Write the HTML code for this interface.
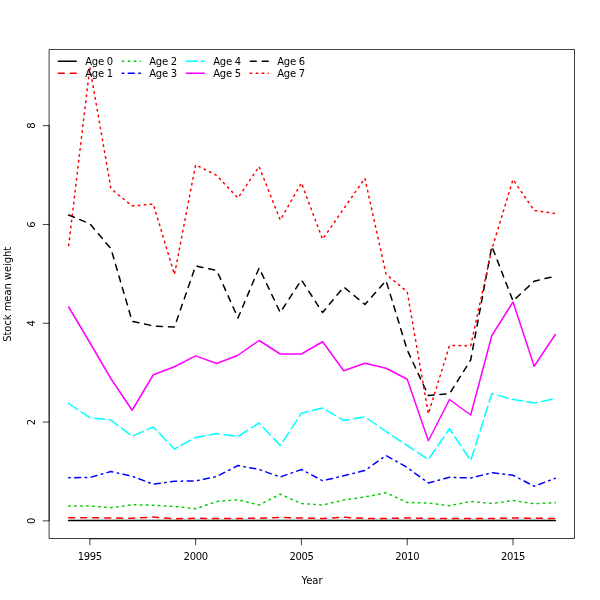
<!DOCTYPE html>
<html><head><meta charset="utf-8"><title>Stock mean weight</title>
<style>
html,body{margin:0;padding:0;background:#fff;}
svg{display:block;}
text{font-family:"DejaVu Sans","Liberation Sans",sans-serif;font-size:10px;fill:#000;}
</style></head><body>
<svg width="600" height="600" viewBox="0 0 600 600">
<rect width="600" height="600" fill="#fff"/>
<g fill="none" stroke-width="1.5" stroke-linecap="round" stroke-linejoin="round">
<polyline stroke="#000000" points="68.67,520.40 89.83,520.40 110.99,520.40 132.14,520.40 153.30,520.40 174.46,520.40 195.62,520.40 216.78,520.40 237.94,520.40 259.10,520.40 280.26,520.40 301.42,520.40 322.58,520.40 343.74,520.40 364.90,520.40 386.06,520.40 407.22,520.40 428.38,520.40 449.54,520.40 470.70,520.40 491.86,520.40 513.01,520.40 534.17,520.40 555.33,520.40"/>
<polyline stroke="#FF0000" stroke-dasharray="6 6" points="68.67,517.75 89.83,517.75 110.99,518.00 132.14,518.25 153.30,517.00 174.46,518.75 195.62,518.25 216.78,518.50 237.94,518.50 259.10,518.25 280.26,517.50 301.42,518.00 322.58,518.50 343.74,517.25 364.90,518.50 386.06,518.50 407.22,518.00 428.38,518.50 449.54,518.50 470.70,518.50 491.86,518.50 513.01,518.00 534.17,518.25 555.33,518.50"/>
<polyline stroke="#00CD00" stroke-dasharray="1.5 4.5" points="68.67,506.00 89.83,506.00 110.99,507.75 132.14,504.75 153.30,505.25 174.46,506.50 195.62,508.75 216.78,501.50 237.94,499.75 259.10,505.00 280.26,494.25 301.42,503.50 322.58,505.00 343.74,500.00 364.90,497.00 386.06,492.75 407.22,502.50 428.38,503.00 449.54,505.75 470.70,501.50 491.86,503.50 513.01,500.50 534.17,503.75 555.33,502.75"/>
<polyline stroke="#0000FF" stroke-dasharray="1.5 4.5 6 4.5" points="68.67,477.75 89.83,477.50 110.99,471.50 132.14,476.25 153.30,484.25 174.46,481.25 195.62,480.90 216.78,476.50 237.94,465.50 259.10,469.50 280.26,477.00 301.42,469.50 322.58,480.75 343.74,475.75 364.90,470.50 386.06,455.50 407.22,467.50 428.38,483.00 449.54,477.25 470.70,478.00 491.86,472.75 513.01,475.25 534.17,486.25 555.33,478.25"/>
<polyline stroke="#00FFFF" stroke-dasharray="10.5 4.5" points="68.67,403.50 89.83,417.75 110.99,420.00 132.14,436.25 153.30,427.00 174.46,449.00 195.62,437.50 216.78,433.50 237.94,436.50 259.10,423.00 280.26,445.50 301.42,413.25 322.58,408.00 343.74,420.50 364.90,416.75 386.06,431.50 407.22,445.50 428.38,459.50 449.54,428.75 470.70,460.60 491.86,393.50 513.01,399.40 534.17,403.00 555.33,398.60"/>
<polyline stroke="#FF00FF" points="68.67,307.00 89.83,342.50 110.99,378.75 132.14,410.25 153.30,374.75 174.46,366.75 195.62,355.90 216.78,363.50 237.94,355.25 259.10,340.50 280.26,354.00 301.42,354.00 322.58,341.75 343.74,370.75 364.90,363.25 386.06,368.25 407.22,379.25 428.38,440.75 449.54,399.50 470.70,415.00 491.86,335.50 513.01,302.00 534.17,366.25 555.33,334.50"/>
<polyline stroke="#000000" stroke-dasharray="6 6" points="68.67,215.00 89.83,223.75 110.99,248.75 132.14,321.25 153.30,326.00 174.46,327.00 195.62,266.00 216.78,270.50 237.94,318.00 259.10,268.00 280.26,312.50 301.42,280.00 322.58,312.50 343.74,287.00 364.90,304.50 386.06,280.75 407.22,350.00 428.38,395.50 449.54,393.75 470.70,360.00 491.86,246.25 513.01,301.00 534.17,281.25 555.33,276.10"/>
<polyline stroke="#FF0000" stroke-dasharray="1.5 4.5" points="68.67,245.50 89.83,67.40 110.99,188.75 132.14,206.00 153.30,204.00 174.46,274.50 195.62,164.75 216.78,175.50 237.94,198.00 259.10,166.50 280.26,220.00 301.42,183.00 322.58,239.25 343.74,208.75 364.90,178.25 386.06,274.25 407.22,291.75 428.38,413.75 449.54,345.50 470.70,345.75 491.86,249.00 513.01,179.50 534.17,210.50 555.33,213.50"/>
</g>
<g fill="none" stroke="#000" stroke-width="0.75" stroke-linecap="round" stroke-linejoin="round">
<path d="M89.83 538.80H513.01"/>
<path d="M89.83 538.80v6"/>
<path d="M195.62 538.80v6"/>
<path d="M301.42 538.80v6"/>
<path d="M407.22 538.80v6"/>
<path d="M513.01 538.80v6"/>
<path d="M49.20 520.87V125.67"/>
<path d="M49.20 520.87h-6"/>
<path d="M49.20 422.07h-6"/>
<path d="M49.20 323.27h-6"/>
<path d="M49.20 224.47h-6"/>
<path d="M49.20 125.67h-6"/>
<rect x="49.5" y="49.5" width="525" height="489"/>
</g>
<text x="90.03" y="560" text-anchor="middle" textLength="24.4">1995</text>
<text x="195.82" y="560" text-anchor="middle" textLength="24.4">2000</text>
<text x="301.62" y="560" text-anchor="middle" textLength="24.4">2005</text>
<text x="407.42" y="560" text-anchor="middle" textLength="24.4">2010</text>
<text x="513.21" y="560" text-anchor="middle" textLength="24.4">2015</text>
<text transform="translate(35 520.87) rotate(-90)" text-anchor="middle">0</text>
<text transform="translate(35 422.07) rotate(-90)" text-anchor="middle">2</text>
<text transform="translate(35 323.27) rotate(-90)" text-anchor="middle">4</text>
<text transform="translate(35 224.47) rotate(-90)" text-anchor="middle">6</text>
<text transform="translate(35 125.67) rotate(-90)" text-anchor="middle">8</text>
<text x="312" y="583.6" text-anchor="middle">Year</text>
<text transform="translate(11 294.3) rotate(-90)" text-anchor="middle" textLength="95">Stock mean weight</text>
<g fill="none" stroke-width="1.5" stroke-linecap="round">
<path stroke="#000000" d="M58.25 61.25h18.06"/>
<path stroke="#FF0000" stroke-dasharray="6 6" d="M58.25 73.25h18.06"/>
<path stroke="#00CD00" stroke-dasharray="1.5 4.5" d="M122.25 61.25h18.06"/>
<path stroke="#0000FF" stroke-dasharray="1.5 4.5 6 4.5" d="M122.25 73.25h18.06"/>
<path stroke="#00FFFF" stroke-dasharray="10.5 4.5" d="M186.25 61.25h18.06"/>
<path stroke="#FF00FF" d="M186.25 73.25h18.06"/>
<path stroke="#000000" stroke-dasharray="6 6" d="M250.25 61.25h18.06"/>
<path stroke="#FF0000" stroke-dasharray="1.5 4.5" d="M250.25 73.25h18.06"/>
</g>
<text x="85.15" y="64.80" textLength="28">Age 0</text>
<text x="85.15" y="76.80" textLength="28">Age 1</text>
<text x="149.15" y="64.80" textLength="28">Age 2</text>
<text x="149.15" y="76.80" textLength="28">Age 3</text>
<text x="213.15" y="64.80" textLength="28">Age 4</text>
<text x="213.15" y="76.80" textLength="28">Age 5</text>
<text x="277.15" y="64.80" textLength="28">Age 6</text>
<text x="277.15" y="76.80" textLength="28">Age 7</text>
</svg>
</body></html>
